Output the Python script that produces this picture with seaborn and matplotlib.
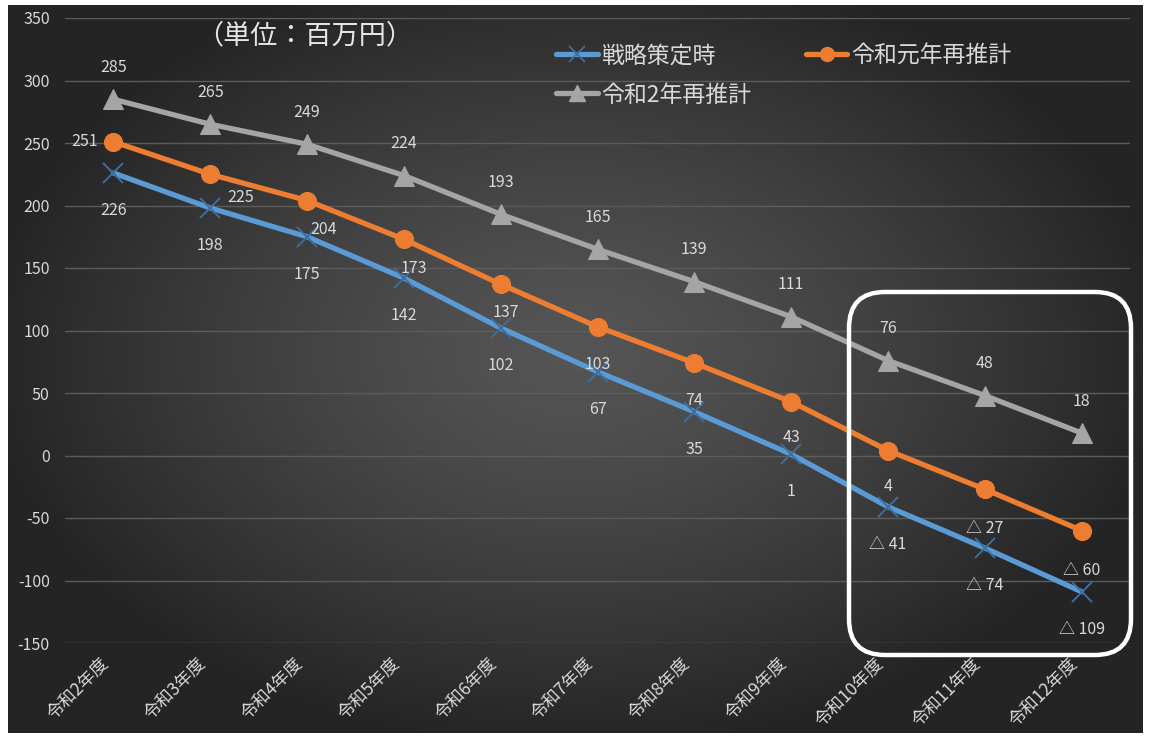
import numpy as np
import pandas as pd
import matplotlib
matplotlib.use("Agg")
import matplotlib.pyplot as plt
from matplotlib.lines import Line2D
from matplotlib.patches import FancyBboxPatch
from matplotlib.transforms import IdentityTransform, ScaledTranslation
import seaborn as sns

# ---- data (百万円) ----
years = ["令和2年度", "令和3年度", "令和4年度", "令和5年度", "令和6年度", "令和7年度",
         "令和8年度", "令和9年度", "令和10年度", "令和11年度", "令和12年度"]
strategy = [226, 198, 175, 142, 102, 67, 35, 1, -41, -74, -109]
reest_r1 = [251, 225, 204, 173, 137, 103, 74, 43, 4, -27, -60]
reest_r2 = [285, 265, 249, 224, 193, 165, 139, 111, 76, 48, 18]
series_names = ["戦略策定時", "令和元年再推計", "令和2年再推計"]
y_ticks = [-150, -100, -50, 0, 50, 100, 150, 200, 250, 300, 350]

sns.set_theme(style="dark")
plt.rcParams["font.family"] = ["Noto Sans CJK JP", "DejaVu Sans"]

W, H = 1150, 738
fig = plt.figure(figsize=(W / 100, H / 100), dpi=100, facecolor="white")

# dark radial-gradient backdrop
bg = fig.add_axes([8 / W, 5 / H, 1135 / W, 728 / H])
gx, gy = np.meshgrid(np.linspace(-1, 1, 400), np.linspace(-1, 1, 260))
r = np.clip(np.sqrt((gx / 1.05) ** 2 + ((gy + 0.05) / 1.1) ** 2), 0, 1)
lo, hi = 0x24 / 255, 0x55 / 255
shade = hi - (hi - lo) * r ** 1.3
bg.imshow(np.dstack([shade, shade, shade]), aspect="auto", extent=[0, 1, 0, 1])
bg.set_axis_off()

ax = fig.add_axes([65 / W, 1 - 643 / H, (1130 - 65) / W, (643 - 18) / H])
ax.set_facecolor("none")
ax.set_zorder(2)

x = np.arange(len(years))
df = pd.DataFrame({"x": x, "s": strategy, "r1": reest_r1, "r2": reest_r2})

c_blue, c_orange, c_gray = "#5b9bd5", "#ed7d31", "#a5a5a5"
lw = 3.8

sns.lineplot(data=df, x="x", y="r2", ax=ax, color=c_gray, lw=lw, marker="^",
             markersize=14, markeredgecolor=c_gray, zorder=3)
sns.lineplot(data=df, x="x", y="r1", ax=ax, color=c_orange, lw=lw, marker="o",
             markersize=13, markeredgecolor=c_orange, zorder=4)
sns.lineplot(data=df, x="x", y="s", ax=ax, color=c_blue, lw=lw, marker="x",
             markersize=15, markeredgewidth=1.4, markeredgecolor="#3d6e9e", zorder=5)

ax.set_xlim(-0.5, len(years) - 0.5)
ax.set_ylim(-150, 350)
ax.set_yticks(y_ticks)
ax.set_yticklabels([str(v) for v in y_ticks])
ax.set_xticks(x)
ax.set_xticklabels(years, rotation=45, ha="right", va="center", rotation_mode="anchor")
ax.set_xlabel("")
ax.set_ylabel("")
ax.grid(axis="y", color="#5c5c5c", lw=1.0)
ax.grid(axis="x", visible=False)
for sp in ax.spines.values():
    sp.set_visible(False)
ax.tick_params(axis="y", colors="#d9d9d9", labelsize=11.5, length=0, pad=11)
ax.tick_params(axis="x", colors="#d9d9d9", labelsize=12.5, length=0, pad=13)
shift = ScaledTranslation(-5 / 72, 0, fig.dpi_scale_trans)
for lbl in ax.get_xticklabels():
    lbl.set_transform(lbl.get_transform() + shift)


def fmt(v):
    return f"△ {abs(v)}" if v < 0 else f"{v}"


lab_kw = dict(color="#d9d9d9", fontsize=11.5, ha="center", va="center",
              textcoords="offset points", zorder=6)
for xi, v in zip(x, reest_r2):
    ax.annotate(fmt(v), (xi, v), xytext=(0, 23), **lab_kw)
for xi, v in zip(x, strategy):
    ax.annotate(fmt(v), (xi, v), xytext=(0, -27), **lab_kw)
# label offsets (points) for the orange series
r1_off = [(-21, 0), (22, -17), (12, -21), (7, -21), (4, -20), (0, -27),
          (0, -27), (0, -26), (0, -26), (0, -28), (0, -29)]
for xi, v, off in zip(x, reest_r1, r1_off):
    ax.annotate(fmt(v), (xi, v), xytext=off, **lab_kw)

# unit note
fig.text(305 / W, 1 - 36 / H, "（単位：百万円）", color="#e6e6e6", fontsize=19.5,
         ha="center", va="center")

# legend
handles = [
    Line2D([], [], color=c_blue, lw=lw, marker="x", markersize=11,
           markeredgecolor="#3d6e9e", markeredgewidth=1.3),
    Line2D([], [], color=c_gray, lw=lw, marker="^", markersize=11,
           markeredgecolor=c_gray),
    Line2D([], [], color=c_orange, lw=lw, marker="o", markersize=10,
           markeredgecolor=c_orange),
]
labels = [series_names[0], series_names[2], series_names[1]]
leg = fig.legend(handles, labels, ncol=2, loc="upper left",
                 bbox_to_anchor=(545 / W, 1 - 33 / H), frameon=False,
                 fontsize=16.5, labelcolor="#d9d9d9", handlelength=1.8,
                 handletextpad=0.15, columnspacing=2.4, labelspacing=0.7,
                 borderpad=0)

# rounded highlight frame around the last three years
frame = FancyBboxPatch((849, H - 655), 282, 363,
                       boxstyle="round,pad=0,rounding_size=36",
                       transform=IdentityTransform(), fill=False,
                       edgecolor="white", lw=3.2, zorder=10)
fig.add_artist(frame)

fig.savefig("out.png", dpi=100, facecolor="white")
